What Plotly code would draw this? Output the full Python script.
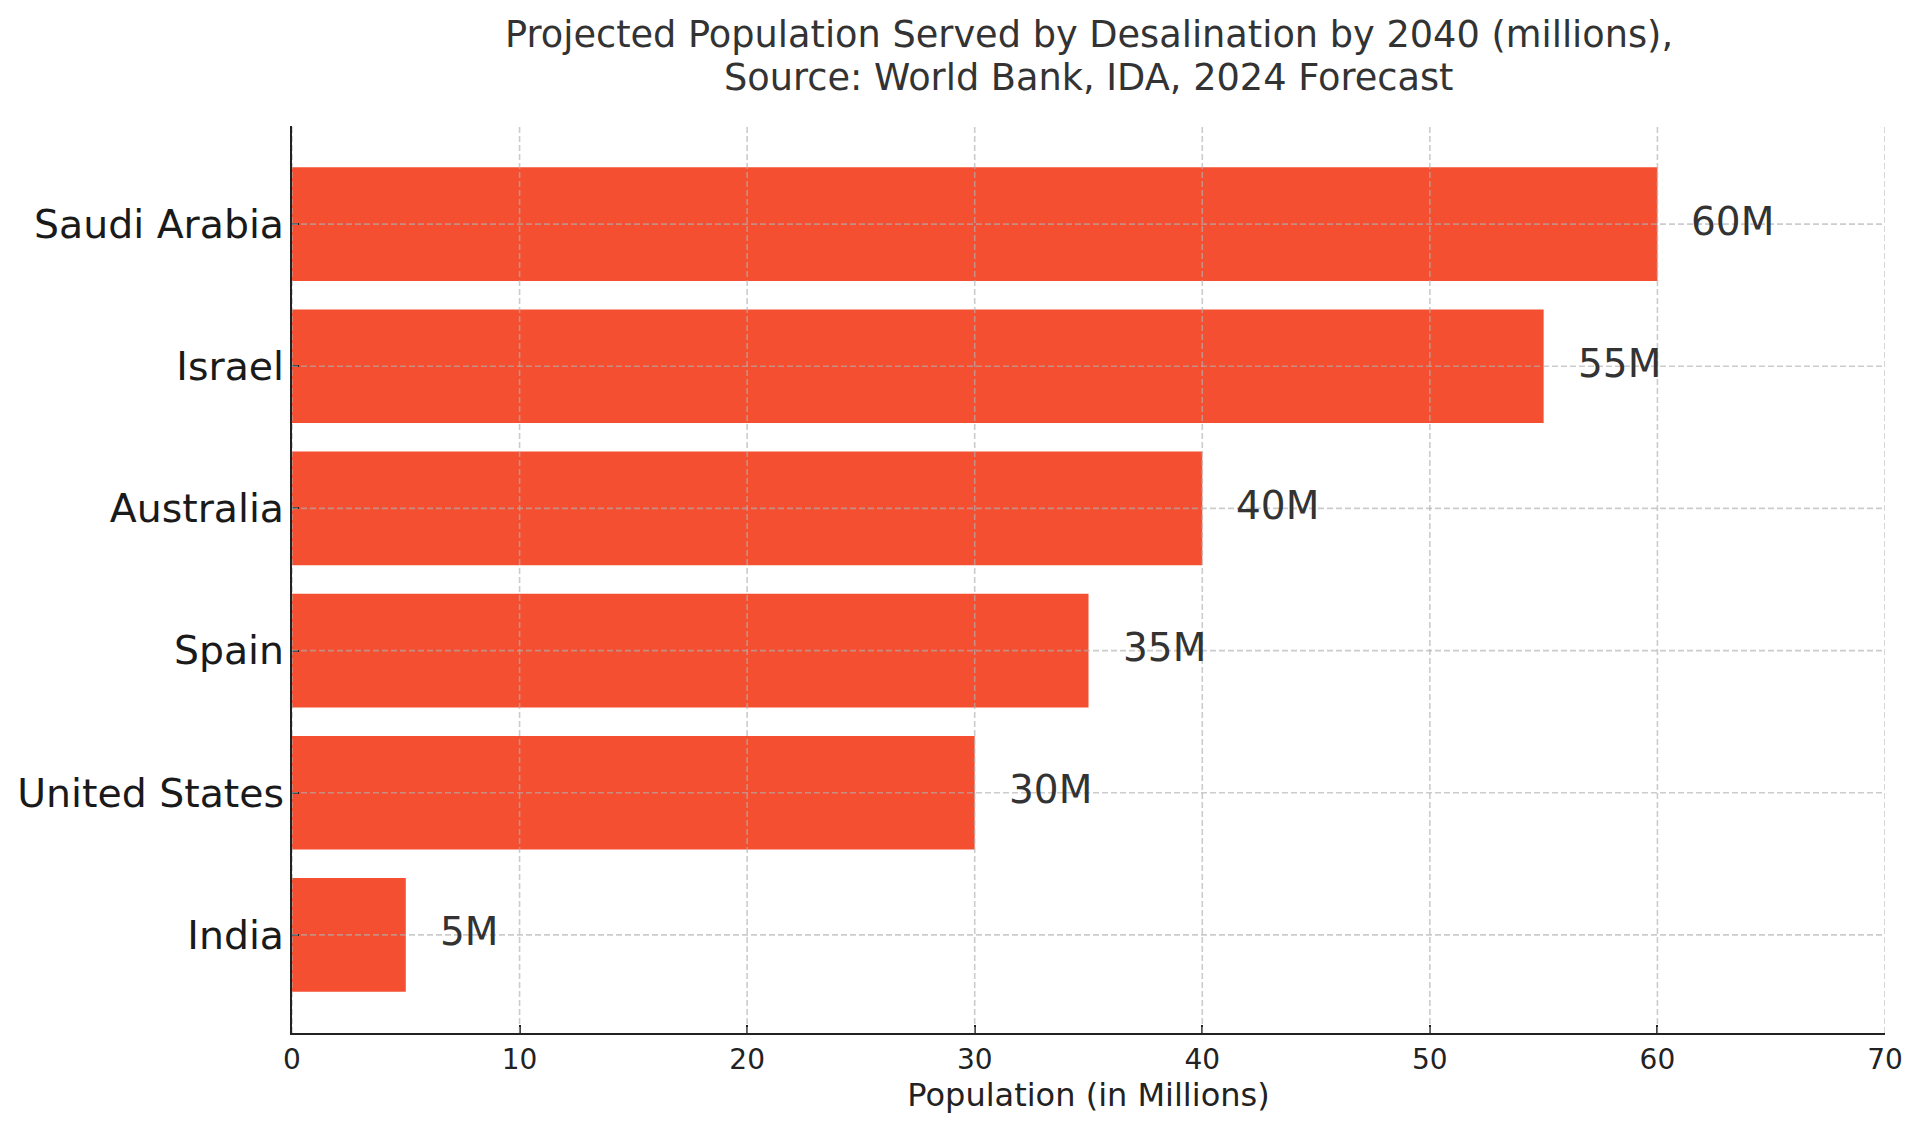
import plotly.graph_objects as go

countries = ["Saudi Arabia", "Israel", "Australia", "Spain", "United States", "India"]
population = [60, 55, 40, 35, 30, 5]
bar_labels = ["60M", "55M", "40M", "35M", "30M", "5M"]
x_ticks = [0, 10, 20, 30, 40, 50, 60, 70]

title_line1 = "Projected Population Served by Desalination by 2040 (millions),"
title_line2 = "Source: World Bank, IDA, 2024 Forecast"
x_title = "Population (in Millions)"

BAR_COLOR = "#F34F30"
GRID = "rgba(176,176,176,0.65)"
FONT = "DejaVu Sans"

fig = go.Figure()
fig.add_trace(go.Bar(
    x=population, y=countries, orientation="h",
    marker=dict(color=BAR_COLOR, line=dict(width=0)),
    width=0.8, hoverinfo="skip", showlegend=False,
))

# value labels
for c, v, t in zip(countries, population, bar_labels):
    fig.add_annotation(x=v, y=c, xref="x", yref="y", text=t, showarrow=False,
                       xanchor="left", yanchor="middle", xshift=32, yshift=3,
                       font=dict(family=FONT, size=39, color="#333333"))

# title (two lines)
for txt, yy in [(title_line1, 1.1011), (title_line2, 1.0539)]:
    fig.add_annotation(x=0.5, y=yy, xref="paper", yref="paper", text=txt,
                       showarrow=False, xanchor="center", yanchor="middle",
                       font=dict(family=FONT, size=36.7, color="#333333"))

# dashed grid lines drawn above the bars
for t in x_ticks:
    fig.add_shape(type="line", xref="x", yref="paper", x0=t, x1=t, y0=0, y1=1,
                  line=dict(color=GRID, width=1.6, dash="6px,3px"), layer="above")
for c in countries:
    fig.add_shape(type="line", xref="paper", yref="y", x0=0, x1=1, y0=c, y1=c,
                  line=dict(color=GRID, width=1.6, dash="6px,3px"), layer="above")

fig.update_layout(
    width=1912, height=1120,
    paper_bgcolor="white", plot_bgcolor="white",
    margin=dict(l=284, r=35, t=118, b=95, autoexpand=False),
    font=dict(family=FONT, color="#262626"),
    bargap=0.2,
)
fig.update_xaxes(
    range=[0, 70], tickvals=x_ticks, ticktext=[str(t) for t in x_ticks],
    showgrid=False, zeroline=False,
    showline=True, linecolor="#222222", linewidth=2.2,
    ticks="inside", ticklen=8, tickwidth=2, tickcolor="#222222",
    tickfont=dict(family=FONT, size=28, color="#222222"),
    ticklabelstandoff=0,
    title=dict(text=x_title, font=dict(family=FONT, size=32, color="#222222"), standoff=8),
    layer="above traces",
)
fig.update_yaxes(
    categoryorder="array", categoryarray=countries[::-1],
    range=[-0.69, 5.69],
    showgrid=False, zeroline=False,
    showline=True, linecolor="#222222", linewidth=2.2,
    ticks="inside", ticklen=7, tickwidth=2, tickcolor="#222222",
    tickfont=dict(family=FONT, size=39.4, color="#1a1a1a"),
    ticklabelstandoff=-2,
    layer="above traces",
)

fig.write_html("out.html")
